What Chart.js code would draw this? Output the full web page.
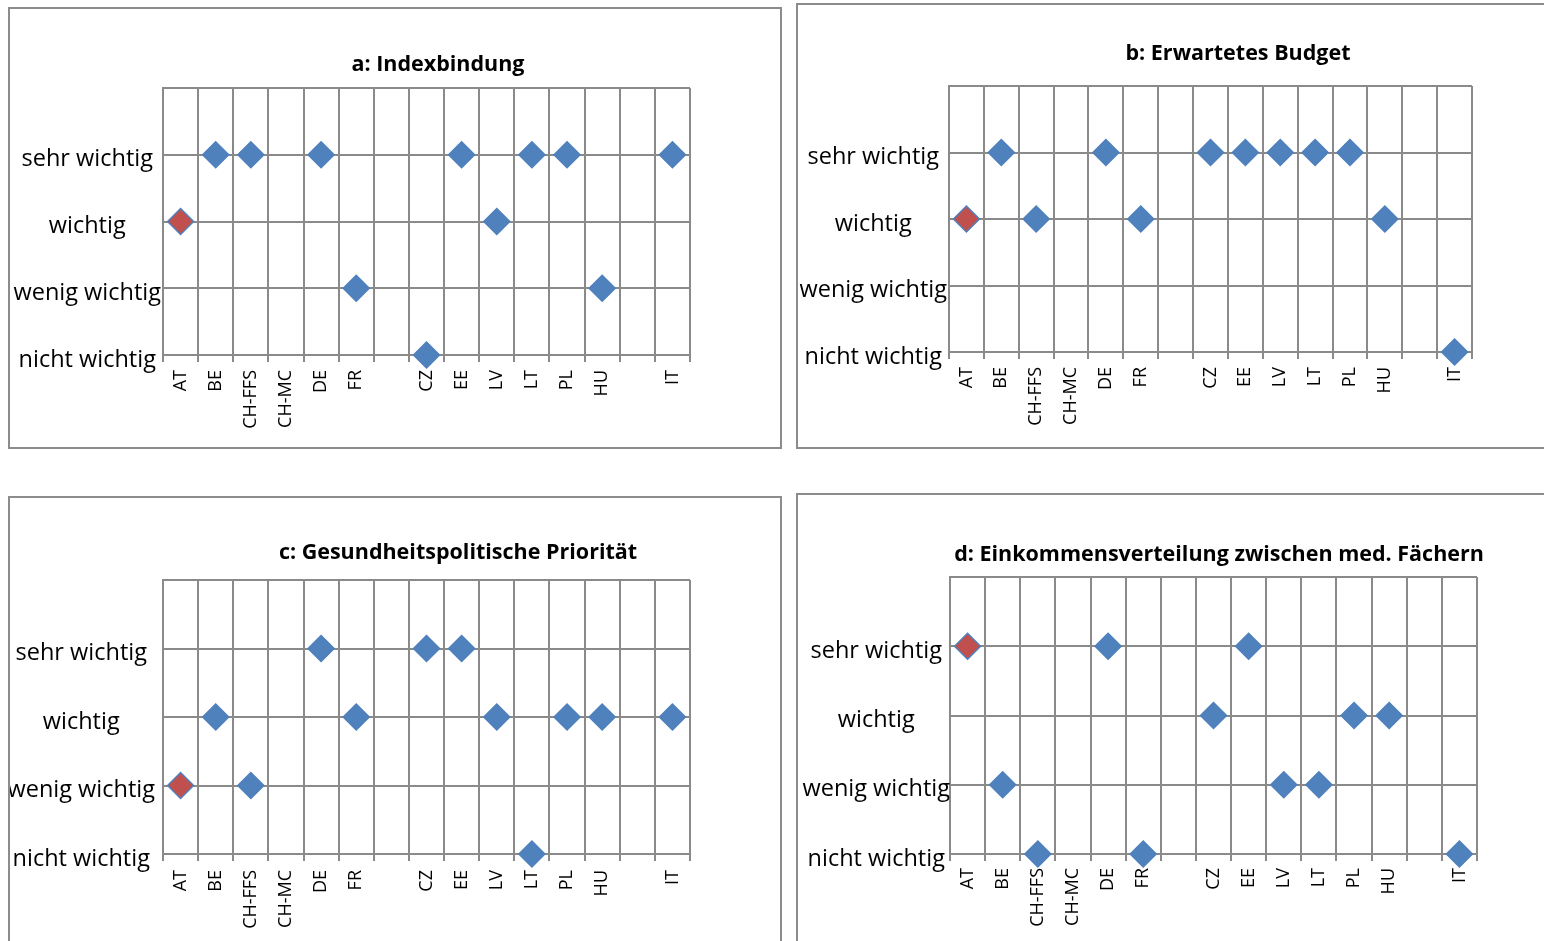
<!DOCTYPE html>
<html>
<head>
<meta charset="utf-8">
<script src="https://cdn.jsdelivr.net/npm/chart.js@4.4.1/dist/chart.umd.min.js"></script>
<style>
  body { margin: 0; width: 1544px; height: 941px; overflow: hidden; background: #fff; position: relative; }
  .panel { position: absolute; border: 2px solid #8c8c8c; box-sizing: border-box; }
  .panel canvas { position: absolute; left: 0; top: 0; }
  .title { position: absolute; font: bold 21.5px/24px "Open Sans", sans-serif; white-space: nowrap; transform: translateX(-50%); color: #000; }
</style>
</head>
<body>
<div class="panel" id="pa"><canvas id="ca"></canvas></div>
<div class="panel" id="pb"><canvas id="cb"></canvas></div>
<div class="panel" id="pc"><canvas id="cc"></canvas></div>
<div class="panel" id="pd"><canvas id="cd"></canvas></div>

<script>
// countries on the x axis (two empty slots as in the original)
const countries = ['AT', 'BE', 'CH-FFS', 'CH-MC', 'DE', 'FR', '', 'CZ', 'EE', 'LV', 'LT', 'PL', 'HU', '', 'IT'];
// y levels: 1 = nicht wichtig ... 4 = sehr wichtig
const levels = ['nicht wichtig', 'wenig wichtig', 'wichtig', 'sehr wichtig'];

const titles = [
  'a: Indexbindung',
  'b: Erwartetes Budget',
  'c: Gesundheitspolitische Priorität',
  'd: Einkommensverteilung zwischen med. Fächern'
];

const indexbindung   = [3, 4, 4, null, 4, 2, null, 1, 4, 3, 4, 4, 2, null, 4];
const budget         = [3, 4, 3, null, 4, 3, null, 4, 4, 4, 4, 4, 3, null, 1];
const prioritaet     = [2, 3, 2, null, 4, 3, null, 4, 4, 3, 1, 3, 3, null, 3];
const einkommen      = [4, 2, 1, null, 4, 1, null, 3, 4, 2, 2, 3, 3, null, 1];

const BLUE = '#4F81BD';
const RED = '#C0504D';
const GRID = '#8a8a8a';

Chart.defaults.font.family = '"Open Sans", sans-serif';
Chart.defaults.color = '#000';

// box = outer frame, plot = chart area (page coordinates)
const panels = [
  { id: 'a', values: indexbindung, box: { x: 8, y: 7, w: 774, h: 442 },  plot: { l: 163, r: 690, t: 88, b: 355 },  title: { x: 438, y: 51 },  yPad: 2, xPad: 8 },
  { id: 'b', values: budget,       box: { x: 796, y: 3, w: 800, h: 446 }, plot: { l: 949, r: 1472, t: 86, b: 352 }, title: { x: 1238, y: 40 }, yPad: 2, xPad: 8 },
  { id: 'c', values: prioritaet,   box: { x: 8, y: 496, w: 774, h: 500 }, plot: { l: 163, r: 690, t: 580, b: 854 }, title: { x: 458, y: 539 }, yPad: 8, xPad: 9 },
  { id: 'd', values: einkommen,    box: { x: 796, y: 493, w: 800, h: 500 }, plot: { l: 950, r: 1477, t: 577, b: 854 }, title: { x: 1219, y: 541 }, yPad: 0, xPad: 7 }
];

panels.forEach((p, i) => {
  const frame = document.getElementById('p' + p.id);
  frame.style.left = p.box.x + 'px';
  frame.style.top = p.box.y + 'px';
  frame.style.width = p.box.w + 'px';
  frame.style.height = p.box.h + 'px';

  const cx = p.box.x + 2, cy = p.box.y + 2;
  const cw = p.box.w - 4, ch = p.box.h - 4;
  const canvas = document.getElementById('c' + p.id);
  canvas.width = cw;
  canvas.height = ch;
  canvas.style.width = cw + 'px';
  canvas.style.height = ch + 'px';

  const t = document.createElement('div');
  t.className = 'title';
  t.textContent = titles[i];
  t.style.left = p.title.x + 'px';
  t.style.top = p.title.y + 'px';
  document.body.appendChild(t);

  new Chart(canvas, {
    type: 'line',
    data: {
      labels: countries,
      datasets: [{
        data: p.values,
        showLine: false,
        clip: false,
        pointStyle: 'rectRot',
        pointRadius: 13,
        pointHoverRadius: 13,
        pointBackgroundColor: ctx => ctx.dataIndex === 0 ? RED : BLUE,
        pointBorderColor: BLUE,
        pointBorderWidth: 1.5
      }]
    },
    options: {
      responsive: false,
      animation: false,
      events: [],
      layout: {
        padding: { left: 0, top: p.plot.t - cy, right: cx + cw - p.plot.r, bottom: 0 }
      },
      plugins: {
        legend: { display: false },
        tooltip: { enabled: false },
        title: { display: false }
      },
      scales: {
        x: {
          type: 'category',
          offset: true,
          grid: { offset: true, color: GRID, lineWidth: 2, tickLength: 7 },
          border: { color: GRID, width: 2 },
          ticks: {
            autoSkip: false,
            maxRotation: 90,
            minRotation: 90,
            padding: p.xPad,
            font: { size: 18 }
          },
          afterFit: s => { s.height = cy + ch - p.plot.b; }
        },
        y: {
          min: 1,
          max: 5,
          grid: { color: GRID, lineWidth: 2, drawTicks: false },
          border: { color: GRID, width: 2 },
          ticks: {
            stepSize: 1,
            padding: p.yPad,
            crossAlign: 'center',
            labelOffset: 5,
            font: { size: 23.5 },
            callback: v => levels[v - 1] || ''
          },
          afterFit: s => { s.width = p.plot.l - cx; }
        }
      }
    }
  });
});
</script>
</body>
</html>
